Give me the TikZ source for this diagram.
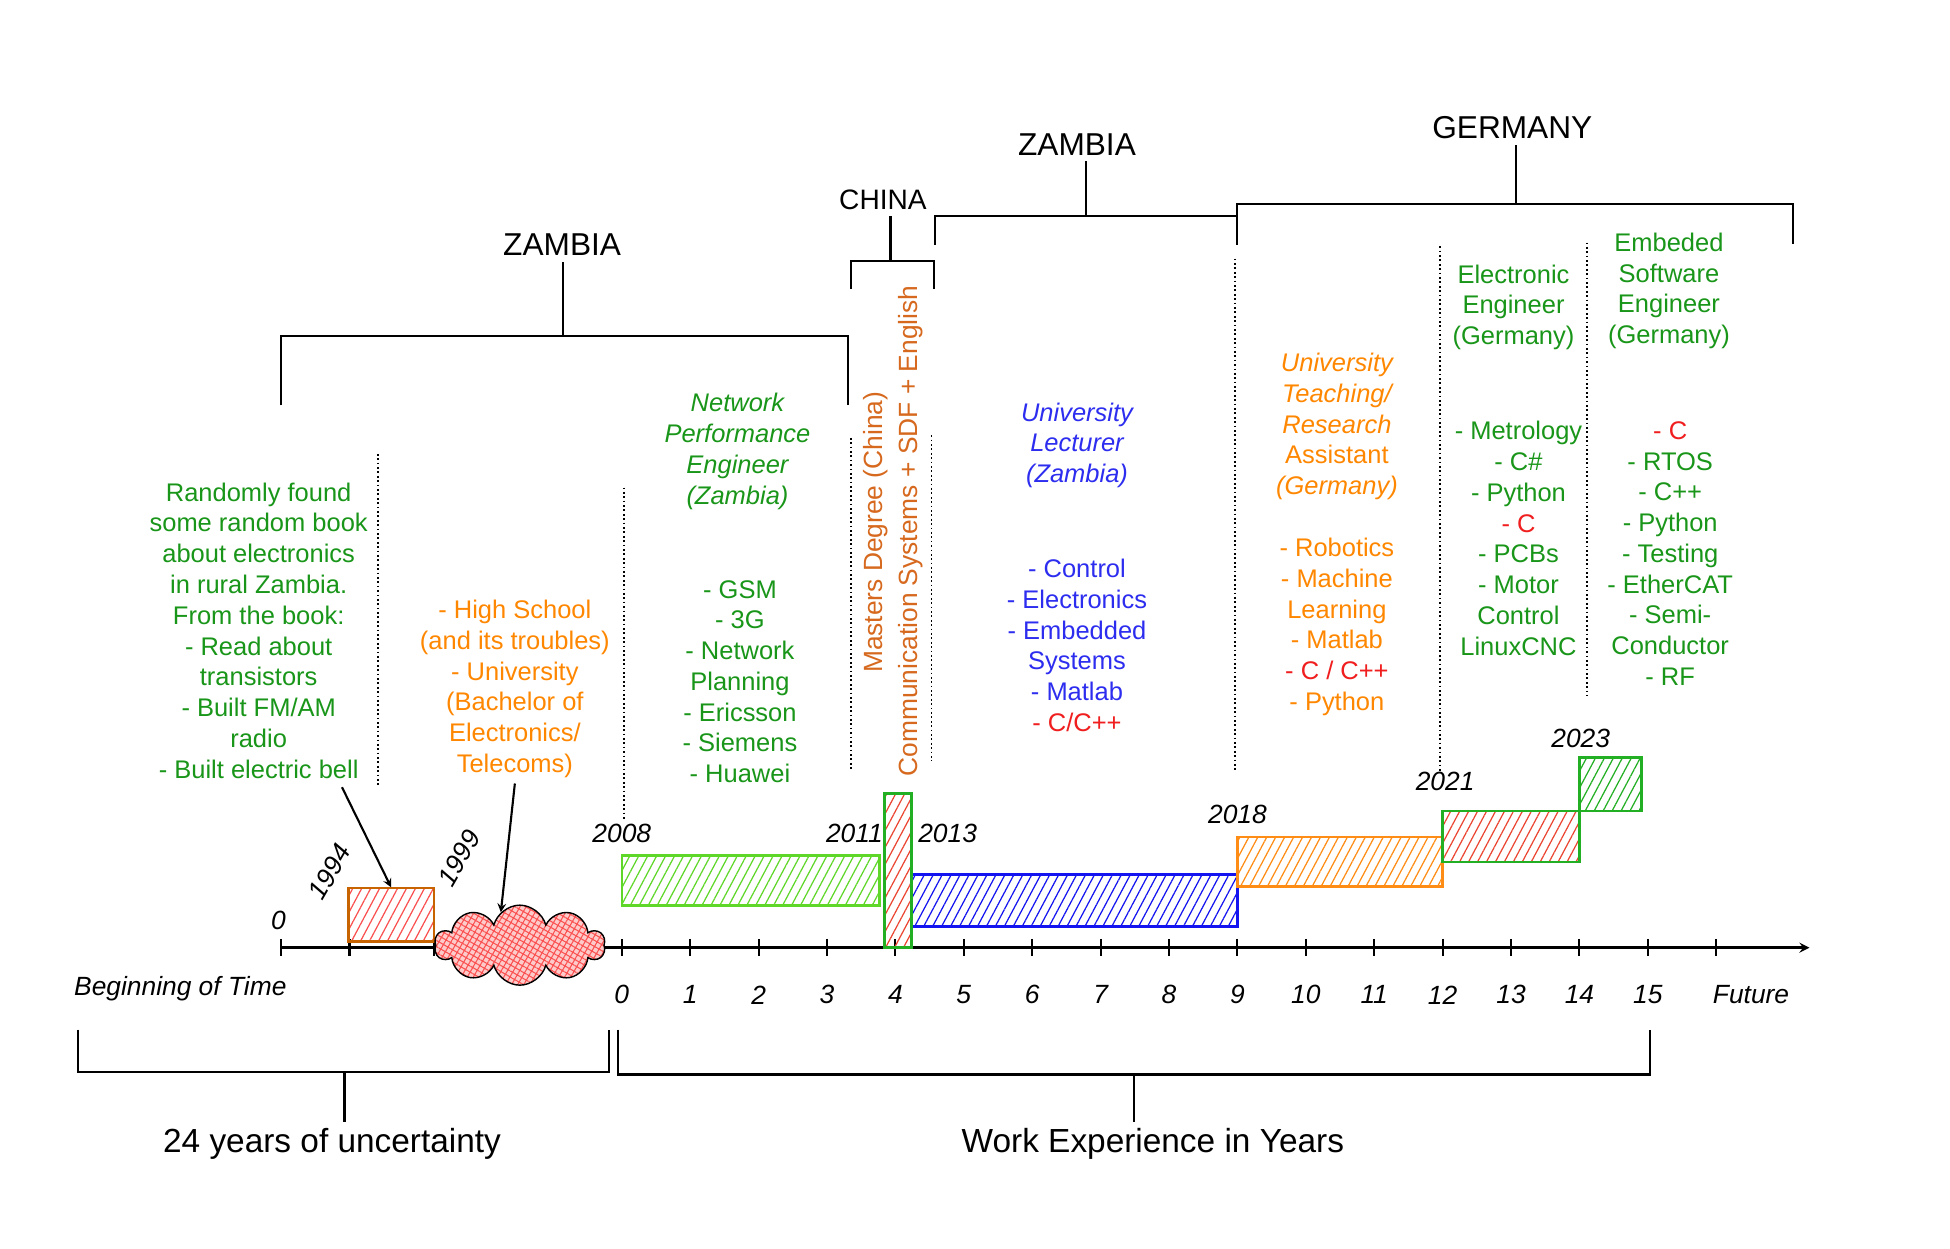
\documentclass[tikz,border=0pt]{standalone}
\usepackage{fontspec}
\setmainfont{Liberation Sans}
\usetikzlibrary{patterns.meta,shapes.symbols,fit,arrows.meta}

\definecolor{txtgreen}{RGB}{25,150,25}
\definecolor{txtorange}{RGB}{255,135,0}
\definecolor{txtbrown}{RGB}{214,105,30}
\definecolor{txtblue}{RGB}{45,45,240}
\definecolor{txtred}{RGB}{240,30,30}
\definecolor{barlime}{RGB}{95,215,40}
\definecolor{barblue}{RGB}{20,20,240}
\definecolor{barorange}{RGB}{255,140,20}
\definecolor{bargreen}{RGB}{35,175,35}
\definecolor{barbrown}{RGB}{200,100,0}
\definecolor{hatchred}{RGB}{235,70,50}
\definecolor{cloudred}{RGB}{250,80,80}

\begin{document}
\begin{tikzpicture}[x=0.2487mm,y=-0.2487mm,
  country/.style={font=\fontsize{18}{20}\selectfont},
  note/.style={align=center,font=\fontsize{14.5}{17.5}\selectfont},
  title/.style={align=center,font=\fontsize{14.5}{17.5}\selectfont\itshape},
  year/.style={font=\fontsize{15}{17}\selectfont\itshape,inner sep=0.5pt},
  big/.style={font=\fontsize{19}{21}\selectfont},
  bar/.style={draw,line width=1.5pt,inner sep=0pt},
  hatch/.style={pattern={Lines[angle=62,distance=4.5pt,line width=0.7pt]},pattern color=#1},
  brace/.style={line width=1.2pt},
  divider/.style={line width=1pt,dash pattern=on 1pt off 1.5pt}]
\useasboundingbox (0,0) rectangle (1568,1004);
\fill[white] (0,0) rectangle (1568,1004);

\node[country] (Zam1) at (452,197) {ZAMBIA};
\node[country,font=\fontsize{16}{18}\selectfont] (China) at (710,161) {CHINA};
\node[country] (Zam2) at (866,116) {ZAMBIA};
\node[country] (Ger) at (1216,103) {GERMANY};
\draw[brace] (226,326) -- (226,270) -- (682,270) -- (682,326);
\draw[brace] (684,232) -- (684,210) -- (751,210) -- (751,232);
\draw[brace] (752,197) -- (752,174) -- (995,174) -- (995,197);
\draw[brace] (995,196) -- (995,164) -- (1442,164) -- (1442,196);
\coordinate (Zam1B) at (453,270);
\coordinate (ChinaB) at (716,210);
\coordinate (Zam2B) at (873,174);
\coordinate (GerB) at (1219,164);
\draw[brace] (Zam1B) -- (Zam1B |- Zam1.south);
\draw[brace] (ChinaB) -- (ChinaB |- China.south);
\draw[brace] (Zam2B) -- (Zam2B |- Zam2.south);
\draw[brace] (GerB) -- (GerB |- Ger.south);

\draw[divider] (304,365) -- (304,632);
\draw[divider] (502,392) -- (502,660);
\draw[divider] (684,352) -- (684,618);
\draw[divider] (749,350) -- (749,612);
\draw[divider] (993,208) -- (993,620);
\draw[divider] (1158,198) -- (1158,620);
\draw[divider] (1276,195) -- (1276,560);

\node[note,text=txtgreen] (Book) at (208,507) {Randomly found\\some random book\\about electronics\\in rural Zambia.\\From the book:\\- Read about\\transistors\\- Built FM/AM\\radio\\- Built electric bell};
\node[note,text=txtorange] (School) at (414,554) {- High School\\(and its troubles)\\- University\\(Bachelor of\\Electronics/\\Telecoms)};
\node[title,text=txtgreen] (NetTitle) at (593,363) {Network\\Performance\\Engineer\\(Zambia)};
\node[note,text=txtgreen] (NetList) at (595,548) {- GSM\\- 3G\\- Network\\Planning\\- Ericsson\\- Siemens\\- Huawei};
\node[rotate=90,text=txtbrown,font=\fontsize{15}{17}\selectfont] (Msc) at (704,428) {Masters Degree (China)};
\node[rotate=90,text=txtbrown,font=\fontsize{15}{17}\selectfont] (Comm) at (732,427) {Communication Systems + SDF + English};
\node[title,text=txtblue] (LecTitle) at (866,358) {University\\Lecturer\\(Zambia)};
\node[note,text=txtblue] (LecList) at (866,519) {- Control\\- Electronics\\- Embedded\\Systems\\- Matlab\\\textcolor{txtred}{- C/C++}};
\node[title,text=txtorange] (ResTitle) at (1075,343) {University\\Teaching/\\Research\\\upshape Assistant\\(Germany)};
\node[note,text=txtorange] (ResList) at (1075,504) {- Robotics\\- Machine\\Learning\\- Matlab\\\textcolor{txtred}{- C / C++}\\- Python};
\node[note,text=txtgreen] (EETitle) at (1217,247) {Electronic\\Engineer\\(Germany)};
\node[note,text=txtgreen] (EEList) at (1221,433) {- Metrology\\- C\#\\- Python\\\textcolor{txtred}{- C}\\- PCBs\\- Motor\\Control\\LinuxCNC};
\node[note,text=txtgreen] (ESETitle) at (1342,234) {Embeded\\Software\\Engineer\\(Germany)};
\node[note,text=txtgreen] (ESEList) at (1343,445) {\textcolor{txtred}{- C}\\- RTOS\\- C++\\- Python\\- Testing\\- EtherCAT\\- Semi-\\Conductor\\- RF};

\coordinate (AxL) at (226,762);
\coordinate (AxR) at (1455,762);
\draw[line width=1.5pt,-stealth] (AxL) -- (AxR);
\foreach \x in {226,281,349}
  \draw[line width=1.2pt] (\x,755) -- (\x,769);
\foreach \k in {0,...,16}
  \draw[line width=1.2pt] ({500+55*\k},755) -- ({500+55*\k},769);
\foreach \k in {0,...,15}
  \node[year] (N\k) at ({500+55*\k},800) {\k};
\node[year] (Fut) at (1408,800) {Future};
\node[year] (Start) at (145,795) {Beginning of Time};

\node[bar,draw=barbrown,hatch=cloudred,fit={(280,714) (349,757)}] (Box1994) {};
\node[cloud,cloud puffs=10,cloud ignores aspect,draw,line width=0.8pt,minimum width=34mm,minimum height=16mm,inner sep=0pt,
  preaction={fill=cloudred!30},pattern={Hatch[angle=60,distance=3pt,line width=0.6pt]},pattern color=cloudred] (Cloud) at (418,760) {};
\node[bar,draw=barlime,hatch=barlime,fit={(500,688) (707,728)}] (Box2008) {};
\node[bar,draw=barblue,hatch=barblue,fit={(733,703) (995,745)}] (Box2013) {};
\node[bar,draw=bargreen,hatch=hatchred,fit={(711,638) (733,762)}] (Box2011) {};
\node[bar,draw=barorange,hatch=barorange,fit={(995,673) (1160,713)}] (Box2018) {};
\node[bar,draw=bargreen,hatch=hatchred,fit={(1160,652) (1270,693)}] (Box2021) {};
\node[bar,draw=bargreen,hatch=bargreen,fit={(1270,609) (1320,652)}] (Box2023) {};

\node[year] (Y0) at (224,740) {0};
\node[year,rotate=60] (Y1994) at (265,701) {1994};
\node[year,rotate=60] (Y1999) at (369,690) {1999};
\node[year] (Y2008) at (500,670) {2008};
\node[year] (Y2011) at (687,670) {2011};
\node[year] (Y2013) at (762,670) {2013};
\node[year] (Y2018) at (995,655) {2018};
\node[year] (Y2021) at (1162,628) {2021};
\node[year] (Y2023) at (1271,594) {2023};

\coordinate (ArrA) at (275,633);
\coordinate (ArrB) at (414,630);
\draw[line width=1.2pt,-stealth] (ArrA) -- (Box1994.north);
\draw[line width=1.2pt,-stealth] (ArrB) -- (Cloud.120);

\draw[brace] (63,828) -- (63,862) -- (490,862) -- (490,828);
\draw[brace] (497,828) -- (497,864) -- (1327,864) -- (1327,828);
\node[big] (Uncert) at (267,920) {24 years of uncertainty};
\node[big] (WorkExp) at (927,920) {Work Experience in Years};
\coordinate (UncertB) at (277,862);
\coordinate (WorkExpB) at (912,864);
\draw[brace] (UncertB) -- (UncertB |- Uncert.north);
\draw[brace] (WorkExpB) -- (WorkExpB |- WorkExp.north);
\end{tikzpicture}
\end{document}
